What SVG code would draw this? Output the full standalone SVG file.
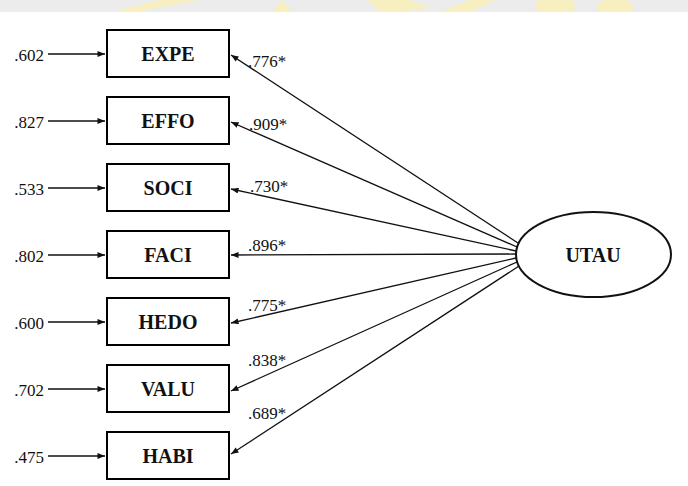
<svg xmlns="http://www.w3.org/2000/svg" width="688" height="486" viewBox="0 0 688 486">
<style>
.box{fill:#fff;stroke:#000;stroke-width:2}
.lbl{font-family:"Liberation Serif","Times New Roman",serif;font-weight:bold;font-size:20px;text-anchor:middle;fill:#111}
.num{font-family:"Liberation Serif","Times New Roman",serif;font-size:17px;fill:#111}
.err{text-anchor:end}
.ln{stroke:#111;stroke-width:1.3;fill:none;marker-end:url(#ah)}
</style>
<defs>
<marker id="ah" viewBox="0 0 10 8" refX="10" refY="4" markerWidth="8" markerHeight="6" markerUnits="userSpaceOnUse" orient="auto">
<path d="M0,0 L10,4 L0,8 z" fill="#111"/>
</marker>
<clipPath id="band"><rect x="0" y="0" width="688" height="12"/></clipPath>
</defs>
<rect width="688" height="486" fill="#fff"/>
<g id="header" clip-path="url(#band)">
<rect x="0" y="0" width="688" height="12" fill="#ebeceb"/>
<g fill="#f8efc0">
<polygon points="112,12 160,0 200,0 135,12"/>
<polygon points="272,12 282,0 292,12"/>
<polygon points="368,0 410,0 430,8 400,12 380,12"/>
<polygon points="440,12 470,0 495,0 470,12"/>
<ellipse cx="555" cy="6" rx="20" ry="10"/>
<ellipse cx="615" cy="8" rx="18" ry="10"/>
</g>
</g>
<g id="connectors">
<line class="ln" x1="48" y1="54" x2="105" y2="54"/>
<line class="ln" x1="48" y1="121" x2="105" y2="121"/>
<line class="ln" x1="48" y1="188" x2="105" y2="188"/>
<line class="ln" x1="48" y1="255" x2="105" y2="255"/>
<line class="ln" x1="48" y1="322" x2="105" y2="322"/>
<line class="ln" x1="48" y1="389" x2="105" y2="389"/>
<line class="ln" x1="48" y1="456" x2="105" y2="456"/>
<line class="ln" x1="518" y1="243" x2="231" y2="55"/>
<line class="ln" x1="517" y1="247" x2="231" y2="122"/>
<line class="ln" x1="516" y1="251" x2="231" y2="189"/>
<line class="ln" x1="516" y1="254" x2="231" y2="255"/>
<line class="ln" x1="516" y1="258" x2="231" y2="323"/>
<line class="ln" x1="517" y1="262" x2="231" y2="391"/>
<line class="ln" x1="519" y1="266" x2="231" y2="454"/>
</g>
<g id="errors">
<text class="num err" x="44" y="61">.602</text>
<text class="num err" x="44" y="128">.827</text>
<text class="num err" x="44" y="195">.533</text>
<text class="num err" x="44" y="262">.802</text>
<text class="num err" x="44" y="329">.600</text>
<text class="num err" x="44" y="396">.702</text>
<text class="num err" x="44" y="463">.475</text>
</g>
<g id="loadings">
<text class="num" x="248" y="67">.776*</text>
<text class="num" x="249" y="130">.909*</text>
<text class="num" x="250" y="192">.730*</text>
<text class="num" x="248" y="251">.896*</text>
<text class="num" x="248" y="311">.775*</text>
<text class="num" x="248" y="366">.838*</text>
<text class="num" x="248" y="419">.689*</text>
</g>
<g id="EXPE"><rect class="box" x="107" y="30" width="122" height="47"/><text class="lbl" x="168" y="61">EXPE</text></g>
<g id="EFFO"><rect class="box" x="107" y="97" width="122" height="47"/><text class="lbl" x="168" y="128">EFFO</text></g>
<g id="SOCI"><rect class="box" x="107" y="164" width="122" height="47"/><text class="lbl" x="168" y="195">SOCI</text></g>
<g id="FACI"><rect class="box" x="107" y="231" width="122" height="47"/><text class="lbl" x="168" y="262">FACI</text></g>
<g id="HEDO"><rect class="box" x="107" y="298" width="122" height="47"/><text class="lbl" x="168" y="329">HEDO</text></g>
<g id="VALU"><rect class="box" x="107" y="365" width="122" height="47"/><text class="lbl" x="168" y="396">VALU</text></g>
<g id="HABI"><rect class="box" x="107" y="432" width="122" height="47"/><text class="lbl" x="168" y="463">HABI</text></g>
<g id="UTAU"><ellipse cx="593.5" cy="254.5" rx="77.5" ry="42.5" fill="#fff" stroke="#111" stroke-width="2"/><text class="lbl" x="593" y="262">UTAU</text></g>
</svg>
